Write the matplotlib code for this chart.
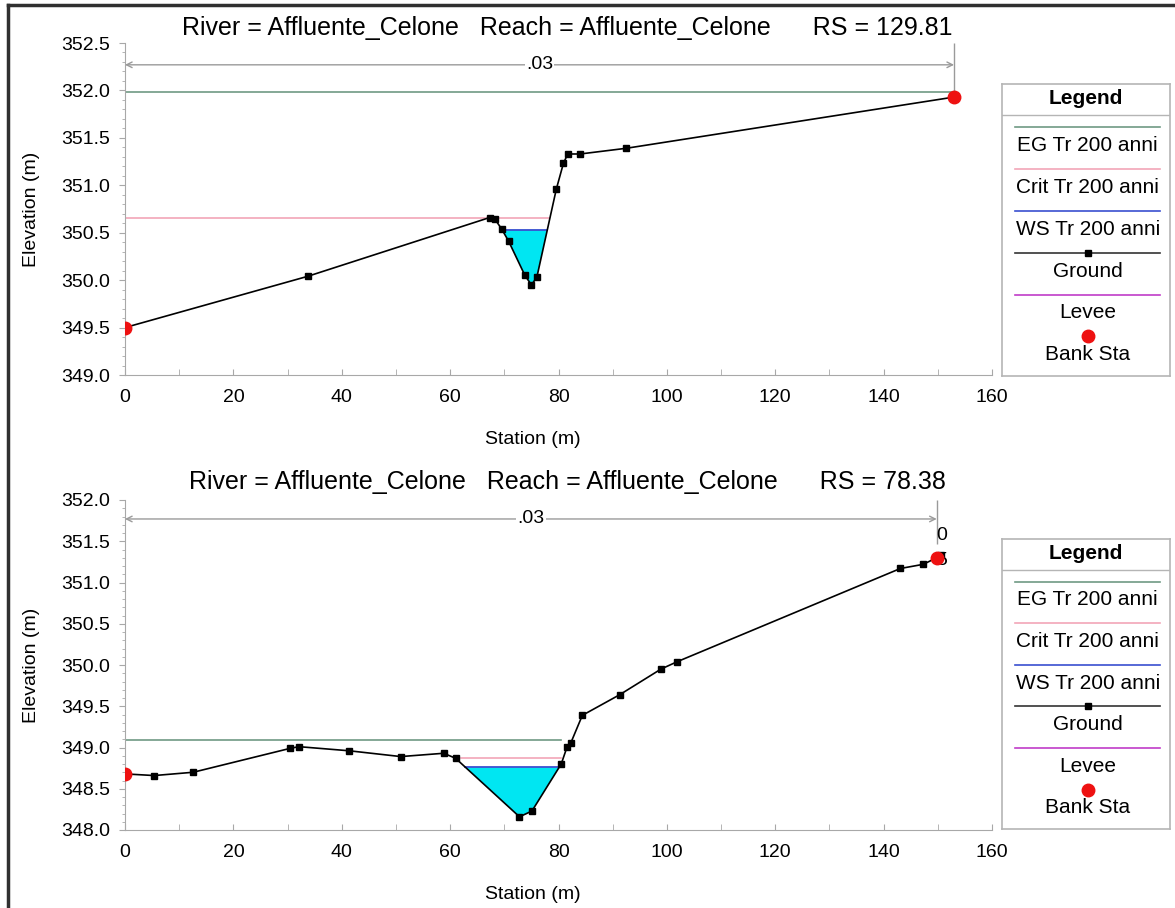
import numpy as np
import matplotlib.pyplot as plt
from matplotlib.lines import Line2D
from matplotlib.ticker import MultipleLocator, FormatStrFormatter

plt.rcParams['font.family'] = ['Liberation Sans', 'DejaVu Sans']

# cross section RS 129.81
sta_129 = [0.0, 33.7, 67.3, 68.3, 69.5, 70.8, 73.8, 75.0, 76.0, 79.6, 80.9, 81.7, 84.0, 92.5, 153.0]
elev_129 = [349.50, 350.04, 350.66, 350.64, 350.54, 350.41, 350.05, 349.95, 350.03, 350.96,
            351.23, 351.33, 351.33, 351.39, 351.93]
eg_129 = 351.98
eg_x_129 = [0.0, 153.0]
crit_129 = 350.66
crit_x_129 = [0.0, 78.3]
ws_129 = 350.53
thalweg_129 = 75.0
banks_129 = [0.0, 153.0]

# cross section RS 78.38
sta_78 = [0.0, 5.4, 12.6, 30.5, 32.1, 41.4, 50.9, 58.8, 61.0, 72.8, 75.1, 80.5, 81.6, 82.3,
          84.4, 91.3, 98.9, 101.9, 143.1, 147.3, 149.8, 150.6]
elev_78 = [348.68, 348.66, 348.70, 348.99, 349.01, 348.96, 348.89, 348.93, 348.87, 348.16,
           348.23, 348.80, 349.01, 349.06, 349.39, 349.64, 349.95, 350.04, 351.17, 351.22,
           351.30, 351.33]
eg_78 = 349.09
eg_x_78 = [0.0, 80.4]
crit_78 = 348.87
crit_x_78 = [62.0, 80.5]
ws_78 = 348.76
thalweg_78 = 72.8
banks_78 = [0.0, 149.8]
notes_78 = [("0", 150.8, 351.57), ("5", 150.8, 351.27)]

n_value = ".03"
legend_names = ["EG Tr 200 anni", "Crit Tr 200 anni", "WS Tr 200 anni", "Ground", "Levee", "Bank Sta"]

EG_C = "#6f9a84"
CRIT_C = "#f2a6b8"
WS_C = "#3a4fd0"
FILL_C = "#00e6f2"
LEVEE_C = "#c03cc8"
BANK_C = "#ee1111"
AX_C = "#a8a8a8"

W, H = 1175, 908


def px_box(x0, y0, x1, y1):
    return [x0 / W, 1 - y1 / H, (x1 - x0) / W, (y1 - y0) / H]


def water_edges(sta, elev, level, thalweg):
    # walk out from the channel invert until the ground reaches the water level
    i0 = int(np.argmin(np.abs(sta - thalweg)))
    xr = sta[-1]
    for i in range(i0 + 1, len(sta)):
        if elev[i] >= level:
            xr = np.interp(level, [elev[i - 1], elev[i]], [sta[i - 1], sta[i]])
            break
    xl = sta[0]
    for i in range(i0 - 1, -1, -1):
        if elev[i] >= level:
            xl = np.interp(level, [elev[i + 1], elev[i]], [sta[i + 1], sta[i]])
            break
    return xl, xr


def plot_section(ax, sta, elev, eg, eg_x, crit, crit_x, ws, thalweg, banks, ylim, notes=()):
    sta = np.asarray(sta)
    elev = np.asarray(elev)

    xl, xr = water_edges(sta, elev, ws, thalweg)
    inside = (sta > xl) & (sta < xr)
    px = np.concatenate([[xl], sta[inside], [xr]])
    py = np.concatenate([[ws], elev[inside], [ws]])
    ax.fill(px, py, color=FILL_C, lw=0, zorder=2)
    ax.plot([xl, xr], [ws, ws], color=WS_C, lw=1.3, zorder=3)

    ax.plot(eg_x, [eg, eg], color=EG_C, lw=1.2, zorder=2)
    ax.plot(crit_x, [crit, crit], color=CRIT_C, lw=1.2, zorder=2)

    ax.plot(sta, elev, color="black", lw=1.2, marker="s", ms=5, zorder=4)
    ax.plot(banks, np.interp(banks, sta, elev), "o", color=BANK_C, ms=9, zorder=6)

    for txt, x, y in notes:
        ax.text(x, y, txt, ha="center", va="center", fontsize=14, zorder=5)

    # manning n span across the section
    y_arr = ylim[1] - 0.23
    ax.annotate("", xy=(0, y_arr), xytext=(banks[-1], y_arr),
                arrowprops=dict(arrowstyle="<->", color="#9a9a9a", lw=1.0,
                                shrinkA=0, shrinkB=0))
    ax.text(banks[-1] / 2, y_arr, n_value, ha="center", va="center", fontsize=14,
            bbox=dict(facecolor="white", edgecolor="none", pad=1), zorder=5)
    ax.vlines(banks[-1], y_arr - 0.3, ylim[1], color="#9a9a9a", lw=1.0, clip_on=False)

    ax.set_xlim(0, 160)
    ax.set_ylim(*ylim)
    for s in ("top", "right"):
        ax.spines[s].set_visible(False)
    for s in ("left", "bottom"):
        ax.spines[s].set_color(AX_C)
    ax.xaxis.set_major_locator(MultipleLocator(20))
    ax.xaxis.set_minor_locator(MultipleLocator(10))
    ax.yaxis.set_major_locator(MultipleLocator(0.5))
    ax.yaxis.set_minor_locator(MultipleLocator(0.1))
    ax.yaxis.set_major_formatter(FormatStrFormatter("%.1f"))
    ax.tick_params(axis="both", which="both", color=AX_C, labelsize=14)
    ax.tick_params(axis="x", which="both", direction="in", length=4, pad=10)
    ax.tick_params(axis="y", which="major", direction="out", length=4, pad=7)
    ax.tick_params(axis="y", which="minor", direction="out", length=2)
    ax.set_xlabel("Station (m)", fontsize=14)
    ax.set_ylabel("Elevation (m)", fontsize=14)
    ax.xaxis.set_label_coords(0.47, -0.17)
    ax.yaxis.set_label_coords(-0.098, 0.5)


def draw_key(fig, box):
    k = fig.add_axes(box)
    k.set_xlim(0, 1)
    k.set_ylim(1, 0)
    k.set_xticks([])
    k.set_yticks([])
    for s in k.spines.values():
        s.set_color("#b5b5b5")
        s.set_linewidth(1.2)
    k.text(0.5, 0.05, "Legend", ha="center", va="center", fontsize=15, fontweight="bold")
    k.plot([0, 1], [0.106, 0.106], color="#b5b5b5", lw=1.0)
    styles = [(EG_C, None), (CRIT_C, None), (WS_C, None), ("#333333", "s"), (LEVEE_C, None), (None, "o")]
    for i, (name, (c, m)) in enumerate(zip(legend_names, styles)):
        y = 0.147 + 0.1435 * i
        if c is not None:
            k.plot([0.08, 0.94], [y, y], color=c, lw=1.2)
        if m == "s":
            k.plot([0.51], [y], "s", color="black", ms=5)
        if m == "o":
            k.plot([0.51], [y], "o", color=BANK_C, ms=9)
        k.text(0.51, y + 0.063, name, ha="center", va="center", fontsize=15)


fig = plt.figure(figsize=(W / 100, H / 100), dpi=100)

ax1 = fig.add_axes(px_box(125, 43, 992, 375))
plot_section(ax1, sta_129, elev_129, eg_129, eg_x_129, crit_129, crit_x_129, ws_129,
             thalweg_129, banks_129, (349.0, 352.5))
fig.text(567 / W, 1 - 28 / H,
         "River = Affluente_Celone   Reach = Affluente_Celone      RS = 129.81",
         ha="center", va="center", fontsize=18)
draw_key(fig, px_box(1002, 84, 1170, 376))

ax2 = fig.add_axes(px_box(125, 500, 992, 830))
plot_section(ax2, sta_78, elev_78, eg_78, eg_x_78, crit_78, crit_x_78, ws_78,
             thalweg_78, banks_78, (348.0, 352.0), notes_78)
fig.text(567 / W, 1 - 482 / H,
         "River = Affluente_Celone   Reach = Affluente_Celone      RS = 78.38",
         ha="center", va="center", fontsize=18)
draw_key(fig, px_box(1002, 539, 1170, 829))

# outer frame
fig.add_artist(Line2D([8 / W, 8 / W], [0, 1 - 5 / H], transform=fig.transFigure, color="#303030", lw=2.5))
fig.add_artist(Line2D([8 / W, 1], [1 - 5 / H, 1 - 5 / H], transform=fig.transFigure, color="#303030", lw=2.5))

fig.savefig("out.png", dpi=100)
